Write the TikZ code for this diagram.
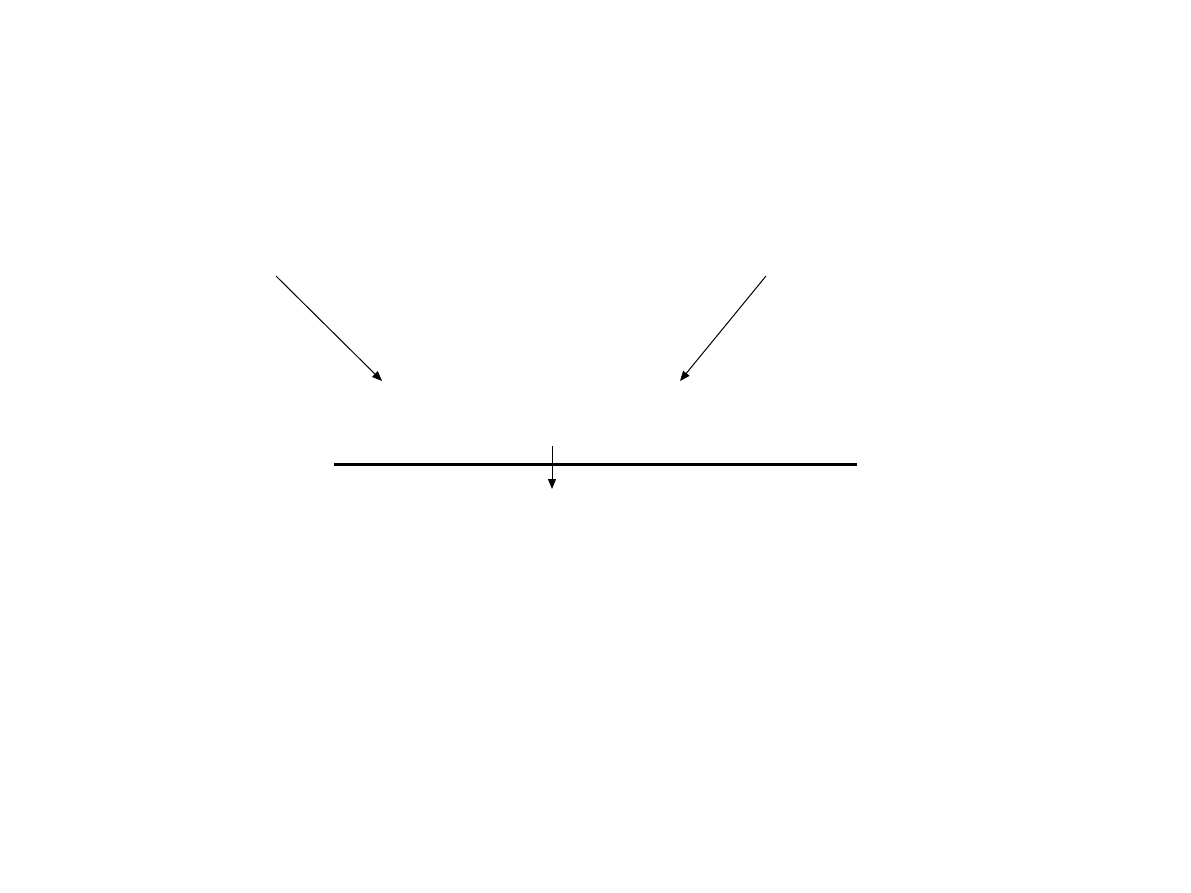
\documentclass[tikz,border=0pt]{standalone}
\usetikzlibrary{arrows.meta}
\begin{document}
\begin{tikzpicture}[x=1pt,y=-1pt,
  ray/.style={line width=1pt,-{Triangle[length=10pt,width=8pt]}},
  surface/.style={line width=3pt}]
\useasboundingbox (0,0) rectangle (1191,893);
\coordinate (a1) at (276,276);
\coordinate (a2) at (382,381);
\coordinate (b1) at (766,276);
\coordinate (b2) at (680,381);
\coordinate (s1) at (334,464);
\coordinate (s2) at (857,464);
\coordinate (c1) at (552,446);
\coordinate (c2) at (552,489);
\draw[ray] (a1) -- (a2);
\draw[ray] (b1) -- (b2);
\draw[surface] (s1) -- (s2);
\draw[ray] (c1) -- (c2);
\end{tikzpicture}
\end{document}
